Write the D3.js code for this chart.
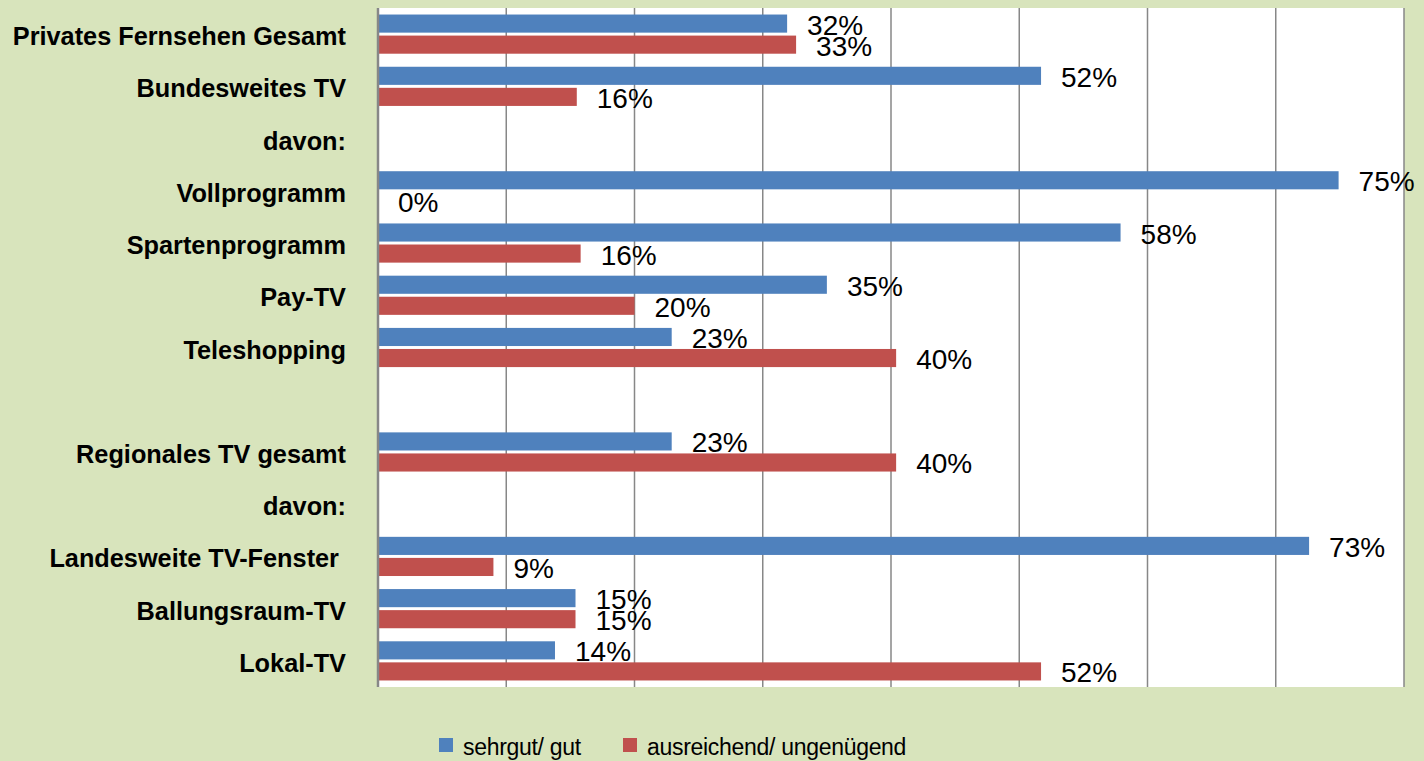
<!DOCTYPE html>
<html>
<head>
    <title>Bewertung Privatfernsehen</title>
    <script src="https://d3js.org/d3.v7.min.js"></script>
    <style>
        body { margin: 0; background: #d8e4bc; }
        svg { display: block; font-family: "Liberation Sans", Arial, sans-serif; }
    </style>
</head>
<body>
    <svg class="barChart" width="1424" height="761"></svg>

    <script>
// Daten
const categories = ["Privates Fernsehen Gesamt", "Bundesweites TV", "davon:", "Vollprogramm",
    "Spartenprogramm", "Pay-TV", "Teleshopping", "", "Regionales TV gesamt", "davon:",
    "Landesweite TV-Fenster ", "Ballungsraum-TV", "Lokal-TV"];
const sehrGut = [31.9, 51.7, null, 74.9, 57.9, 35.0, 22.9, null, 22.9, null, 72.6, 15.4, 13.8];
const ausreichend = [32.6, 15.5, null, 0, 15.8, 20.0, 40.4, null, 40.4, null, 9.0, 15.4, 51.7];
const seriesNames = ["sehrgut/ gut", "ausreichend/ ungenügend"];
const xTicks = [0, 10, 20, 30, 40, 50, 60, 70, 80];

function plotarGrafico() {
    const svg = d3.select('.barChart');
    const plot = { left: 378, right: 1404, top: 8, bottom: 687 };
    const colors = ['#4f81bd', '#c0504d'];

    const x = d3.scaleLinear()
        .domain([0, 80])
        .range([plot.left, plot.right]);

    const y = d3.scaleBand()
        .domain(d3.range(categories.length))
        .range([plot.top, plot.bottom])
        .padding(0);

    const ySub = d3.scaleBand()
        .domain([0, 1])
        .range([0, y.bandwidth()])
        .paddingInner(0.14)
        .paddingOuter(0.31);

    // Plotfläche
    svg.append('rect')
        .attr('x', plot.left)
        .attr('y', plot.top)
        .attr('width', plot.right - plot.left)
        .attr('height', plot.bottom - plot.top)
        .attr('fill', '#fff');

    // Gitterlinien
    svg.append('g')
        .selectAll('line')
        .data(xTicks.slice(1))
        .enter().append('line')
        .attr('x1', d => x(d))
        .attr('x2', d => x(d))
        .attr('y1', plot.top)
        .attr('y2', plot.bottom)
        .attr('stroke', '#878787')
        .attr('stroke-width', 1.5);

    // Balken
    const rows = categories.map((c, i) => ({ i, values: [sehrGut[i], ausreichend[i]] }));
    const groups = svg.append('g')
        .selectAll('g')
        .data(rows)
        .enter().append('g')
        .attr('transform', d => `translate(0,${y(d.i)})`);

    const bars = groups.selectAll('.bar')
        .data(d => d.values.map((v, s) => ({ v, s })).filter(e => e.v !== null))
        .enter();

    bars.append('rect')
        .attr('class', 'bar')
        .attr('x', x(0))
        .attr('y', d => ySub(d.s))
        .attr('width', d => x(d.v) - x(0))
        .attr('height', ySub.bandwidth())
        .attr('fill', d => colors[d.s]);

    bars.append('text')
        .attr('x', d => x(d.v) + 20)
        .attr('y', d => ySub(d.s) + ySub.bandwidth() / 2 + 11)
        .attr('font-size', 28)
        .attr('fill', '#000')
        .text(d => Math.round(d.v) + '%');

    // Achse links
    svg.append('line')
        .attr('x1', plot.left)
        .attr('x2', plot.left)
        .attr('y1', plot.top)
        .attr('y2', plot.bottom)
        .attr('stroke', '#878787')
        .attr('stroke-width', 2.5);

    // Kategorien
    svg.append('g')
        .selectAll('text')
        .data(categories)
        .enter().append('text')
        .attr('x', 346)
        .attr('y', (d, i) => y(i) + y.bandwidth() / 2 + 11)
        .attr('text-anchor', 'end')
        .attr('font-size', 25.3)
        .attr('font-weight', 'bold')
        .style('white-space', 'pre')
        .text(d => d);

    // Legende
    const legendX = [439, 623];
    const legend = svg.append('g')
        .selectAll('g')
        .data(seriesNames)
        .enter().append('g')
        .attr('transform', (d, i) => `translate(${legendX[i]},738)`);

    legend.append('rect')
        .attr('width', 14)
        .attr('height', 14)
        .attr('fill', (d, i) => colors[i]);

    legend.append('text')
        .attr('x', 24)
        .attr('y', 17)
        .attr('font-size', 23)
        .attr('letter-spacing', -0.3)
        .attr('fill', '#000')
        .text(d => d);
}

plotarGrafico();
    </script>
</body>
</html>
